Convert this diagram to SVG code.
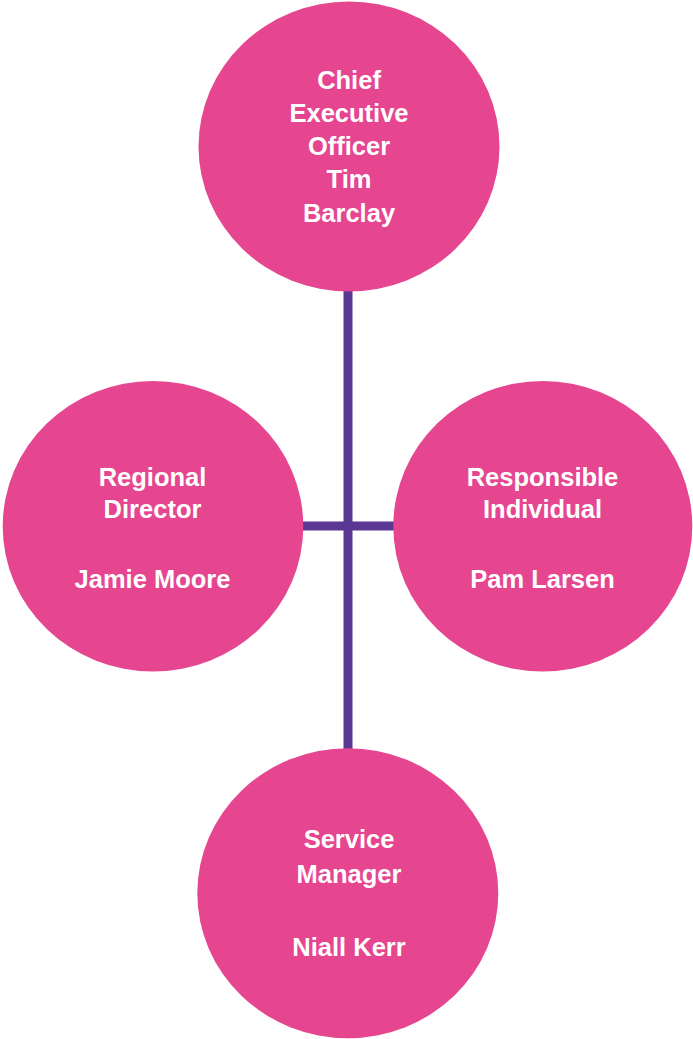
<svg xmlns="http://www.w3.org/2000/svg" width="693" height="1039" viewBox="0 0 693 1039">
<style>
.node{fill:#E5468F;}
.lbl{fill:#FFFFFF;font-family:"Liberation Sans",Arial,sans-serif;font-weight:bold;font-size:25.5px;text-anchor:middle;}
.conn{stroke:#5B3794;stroke-width:9;fill:none;}
</style>
<rect width="693" height="1039" fill="#FFFFFF"/>
<g id="connectors">
<line class="conn" x1="348" y1="280" x2="348" y2="760"/>
<line class="conn" x1="290" y1="526" x2="405" y2="526"/>
</g>
<g id="ceo">
<ellipse class="node" cx="349" cy="146.5" rx="150.5" ry="145"/>
<text class="lbl" x="349" y="89">Chief</text>
<text class="lbl" x="349" y="122">Executive</text>
<text class="lbl" x="349" y="155">Officer</text>
<text class="lbl" x="349" y="188">Tim</text>
<text class="lbl" x="349" y="222">Barclay</text>
</g>
<g id="regional-director">
<ellipse class="node" cx="153" cy="526.3" rx="150.3" ry="145.3"/>
<text class="lbl" x="152.5" y="486">Regional</text>
<text class="lbl" x="152.5" y="518">Director</text>
<text class="lbl" x="152.5" y="588">Jamie Moore</text>
</g>
<g id="responsible-individual">
<ellipse class="node" cx="542.8" cy="526.3" rx="149.5" ry="145.3"/>
<text class="lbl" x="542.5" y="486">Responsible</text>
<text class="lbl" x="542.5" y="518">Individual</text>
<text class="lbl" x="542.5" y="588">Pam Larsen</text>
</g>
<g id="service-manager">
<ellipse class="node" cx="347.8" cy="893.2" rx="150.5" ry="145"/>
<text class="lbl" x="349" y="848">Service</text>
<text class="lbl" x="349" y="883">Manager</text>
<text class="lbl" x="349" y="956">Niall Kerr</text>
</g>
</svg>
